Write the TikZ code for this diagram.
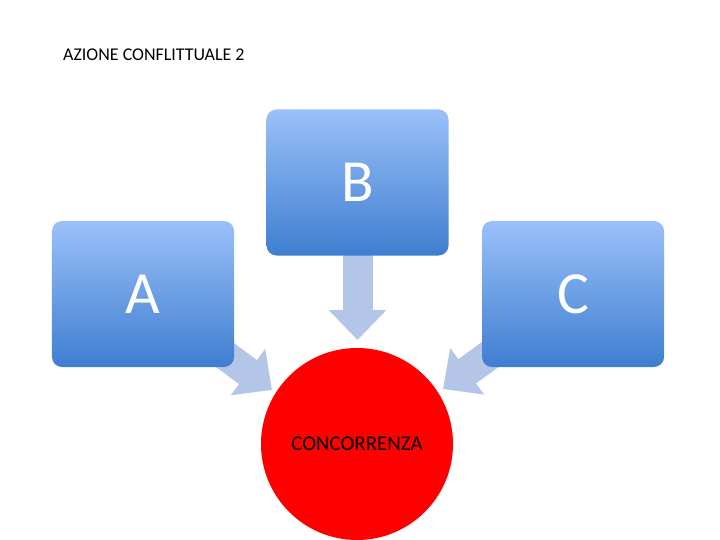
\documentclass[tikz,border=0pt]{standalone}
\usepackage{fontspec}
\setmainfont{Carlito}
\usetikzlibrary{arrows.meta,backgrounds}
\definecolor{boxtop}{RGB}{155,192,250}
\definecolor{boxbot}{RGB}{62,126,208}
\definecolor{arrowblue}{RGB}{180,198,232}
\tikzset{
  box/.style={rounded corners=10bp, minimum width=182bp, minimum height=146bp,
    top color=boxtop, bottom color=boxbot, text=white, inner sep=0pt,
    font=\fontsize{60}{60}\selectfont},
  fatarrow/.style={line width=30bp, draw=arrowblue, -{Triangle[length=30bp,width=56bp]}},
}
\begin{document}
\begin{tikzpicture}[x=1bp,y=-1bp]
            \useasboundingbox (0,0) rectangle (720,540);
            \node[anchor=west,inner sep=0pt,font=\fontsize{18}{18}\selectfont] (title) at (63,55) {AZIONE CONFLITTUALE 2};
            \node[box] (B) at (357.5,182.5) {B};
            \node[box] (A) at (143,294) {A};
            \node[box] (C) at (573,294) {C};
            \node[circle,fill=red,minimum size=192bp,inner sep=0pt,font=\fontsize{21}{21}\selectfont] (conc) at (357,444) {CONCORRENZA};
            \coordinate (tipA) at (272,390);
            \coordinate (tipB) at (357.5,340);
            \coordinate (tipC) at (443,389);
            \begin{scope}[on background layer]
                \draw[fatarrow] (A.center) -- (tipA);
                \draw[fatarrow] (B.center) -- (tipB);
                \draw[fatarrow] (C.center) -- (tipC);
            \end{scope}
        \end{tikzpicture}
\end{document}
